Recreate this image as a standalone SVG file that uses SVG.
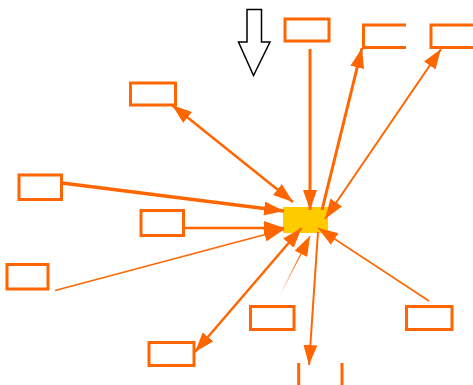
<svg xmlns="http://www.w3.org/2000/svg" width="473" height="385" viewBox="0 0 473 385">
  <defs>
    <style>
      .box { fill: #ffffff; stroke: #ff6600; stroke-width: 3; }
      .open { fill: none; stroke: #ff6600; stroke-width: 3; }
      .edge { fill: none; stroke: #ff6600; }
    </style>
    <marker id="ah" markerUnits="userSpaceOnUse" markerWidth="22" markerHeight="14" refX="20" refY="7" orient="auto-start-reverse" viewBox="0 0 22 14">
      <path d="M0,0 L20,7 L0,14 z" fill="#ff6600"/>
    </marker>
    <linearGradient id="fade" gradientUnits="userSpaceOnUse" x1="280" y1="296" x2="300" y2="256">
      <stop offset="0" stop-color="#ff6600" stop-opacity="0"/>
      <stop offset="1" stop-color="#ff6600" stop-opacity="1"/>
    </linearGradient>
  </defs>
  <rect width="473" height="385" fill="#ffffff"/>

  <g id="big-arrow">
    <polygon points="247,9.5 261.5,9.5 261.5,42 270,42 253.5,75.5 238.5,42 247,42" fill="#ffffff" stroke="#000000" stroke-width="1.5"/>
  </g>
  <g id="center"><rect x="283" y="207" width="45" height="26" fill="#ffcc00"/></g>
  <g id="n-top"><rect class="box" x="285" y="19" width="44" height="22"/></g>
  <g id="n-tr1"><path class="open" d="M406,25 H363.5 V47.5 H406"/></g>
  <g id="n-tr2"><path class="open" d="M475,25 H431 V47.5 H475"/></g>
  <g id="n-ul"><rect class="box" x="130.5" y="83" width="45" height="22"/></g>
  <g id="n-l1"><rect class="box" x="19" y="175" width="42.5" height="24.5"/></g>
  <g id="n-l2"><rect class="box" x="141" y="210.5" width="42.5" height="25"/></g>
  <g id="n-l3"><rect class="box" x="7" y="264.5" width="41" height="24.5"/></g>
  <g id="n-b1"><rect class="box" x="250.5" y="306.5" width="43.5" height="23"/></g>
  <g id="n-br"><rect class="box" x="406.5" y="306.5" width="45.5" height="23"/></g>
  <g id="n-bl"><rect class="box" x="149" y="342.5" width="45" height="23"/></g>
  <g id="n-bottom">
    <line x1="298.7" y1="363" x2="298.7" y2="386" stroke="#ff6600" stroke-width="3"/>
    <line x1="342" y1="363" x2="342" y2="386" stroke="#ff6600" stroke-width="3"/>
  </g>

  <g id="connectors">
    <line class="edge" x1="310" y1="49" x2="310" y2="210" stroke-width="3" marker-end="url(#ah)"/>
    <line class="edge" x1="322" y1="210" x2="362" y2="48" stroke-width="3" marker-end="url(#ah)"/>
    <line class="edge" x1="325" y1="219" x2="441" y2="49" stroke-width="2" marker-start="url(#ah)" marker-end="url(#ah)"/>
    <line class="edge" x1="172" y1="105" x2="293" y2="202" stroke-width="2.5" marker-start="url(#ah)" marker-end="url(#ah)"/>
    <line class="edge" x1="62" y1="183" x2="284" y2="211" stroke-width="3.5" marker-end="url(#ah)"/>
    <line class="edge" x1="184" y1="228" x2="284" y2="228" stroke-width="2.5" marker-end="url(#ah)"/>
    <line class="edge" x1="55" y1="290.5" x2="284" y2="229.5" stroke-width="1.5" marker-end="url(#ah)"/>
    <line class="edge" x1="195" y1="352" x2="301.5" y2="228" stroke-width="2.5" marker-start="url(#ah)" marker-end="url(#ah)"/>
    <line x1="279" y1="297" x2="310" y2="236" fill="none" stroke="url(#fade)" stroke-width="1.2" marker-end="url(#ah)"/>
    <line class="edge" x1="318" y1="232" x2="309" y2="365" stroke-width="2" marker-end="url(#ah)"/>
    <line class="edge" x1="429" y1="301" x2="318" y2="228" stroke-width="1.5" marker-end="url(#ah)"/>
  </g>
</svg>
